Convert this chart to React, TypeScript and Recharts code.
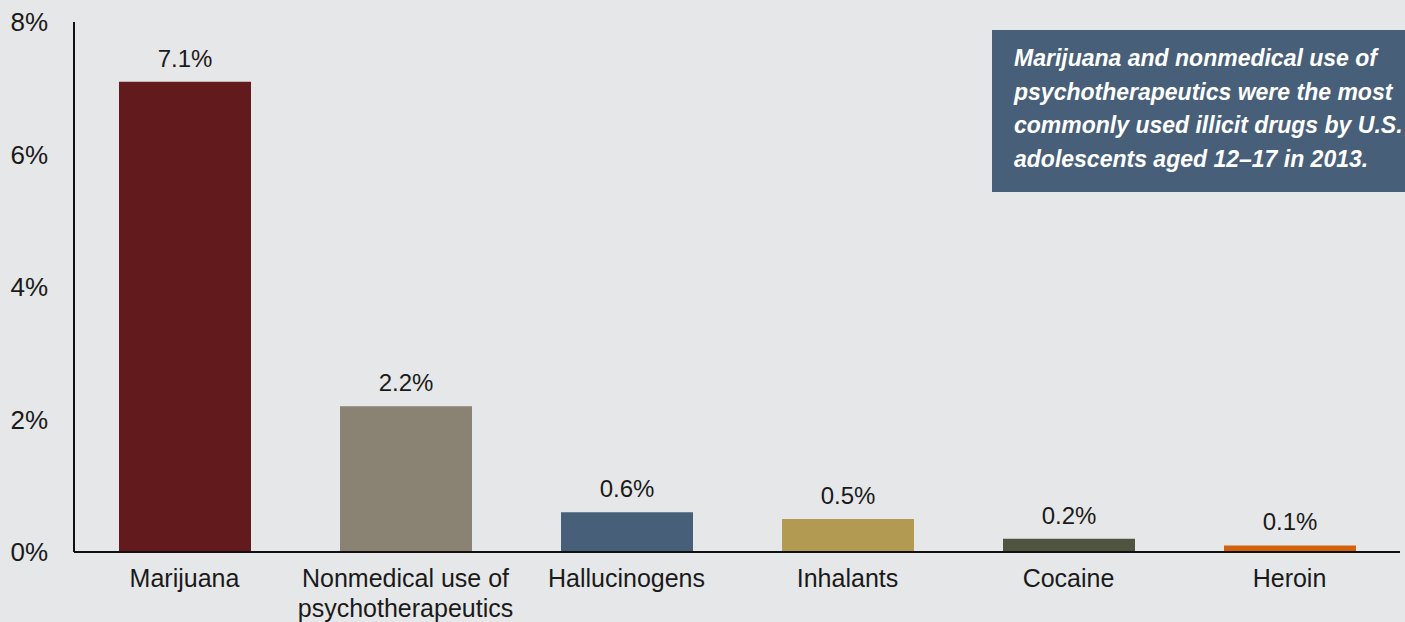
import React from 'react';
import { BarChart, Bar, XAxis, YAxis, Cell, LabelList } from 'recharts';

const CATEGORIES = ['Marijuana', 'Nonmedical use of\npsychotherapeutics', 'Hallucinogens', 'Inhalants', 'Cocaine', 'Heroin'];
const VALUES = [7.1, 2.2, 0.6, 0.5, 0.2, 0.1];
const COLORS = ['#631a1c', '#8a8272', '#475f78', '#b39a53', '#4f5440', '#d3620f'];
const Y_TICKS = [0, 2, 4, 6, 8];
const NOTE = [
	'Marijuana and nonmedical use of',
	'psychotherapeutics were the most',
	'commonly used illicit drugs by U.S.',
	'adolescents aged 12–17 in 2013.',
];

const FONT = '"Liberation Sans", Arial, Helvetica, sans-serif';

const data = CATEGORIES.map((name, i) => ({ name, value: VALUES[i] }));

function CategoryTick({ x, y, payload }: any) {
	const lines = String(payload.value).split('\n');
	return (
		<text x={x} y={y} textAnchor="middle" fill="#1a1a1a" fontSize={25} fontFamily={FONT}>
			{lines.map((l, i) => (
				<tspan key={i} x={x} dy={i === 0 ? 27 : 30}>{l}</tspan>
			))}
		</text>
	);
}

export default function App() {
	return (
		<div style={{ position: 'fixed', left: 0, top: 0, width: 1405, height: 622, background: '#e6e7e8', fontFamily: FONT }}>
			<BarChart width={1405} height={622} data={data} margin={{ top: 22, right: 5, left: 0, bottom: 0 }}>
				<XAxis
					dataKey="name"
					height={70}
					interval={0}
					tickLine={false}
					axisLine={{ stroke: '#111', strokeWidth: 2 }}
					tick={<CategoryTick />}
				/>
				<YAxis
					width={74}
					domain={[0, 8]}
					ticks={Y_TICKS}
					tickFormatter={(v: number) => `${v}%`}
					tickLine={false}
					tickMargin={20}
					axisLine={{ stroke: '#111', strokeWidth: 2 }}
					tick={{ fill: '#1a1a1a', fontSize: 26, fontFamily: FONT }}
				/>
				<Bar dataKey="value" barSize={132} isAnimationActive={false}>
					{data.map((d, i) => <Cell key={i} fill={COLORS[i]} />)}
					<LabelList
						dataKey="value"
						position="top"
						offset={15}
						formatter={(v: any) => `${v}%`}
						fill="#1a1a1a"
						fontSize={24}
						fontFamily={FONT}
					/>
				</Bar>
			</BarChart>
			<div
				style={{
					position: 'absolute',
					left: 992,
					top: 30,
					width: 413,
					height: 162,
					background: '#475f78',
					color: '#fff',
					fontStyle: 'italic',
					fontWeight: 700,
					fontSize: 23,
					lineHeight: '33.5px',
					padding: '12px 0 0 22px',
					boxSizing: 'border-box',
					whiteSpace: 'nowrap',
				}}
			>
				{NOTE.map((l, i) => <div key={i}>{l}</div>)}
			</div>
		</div>
	);
}
